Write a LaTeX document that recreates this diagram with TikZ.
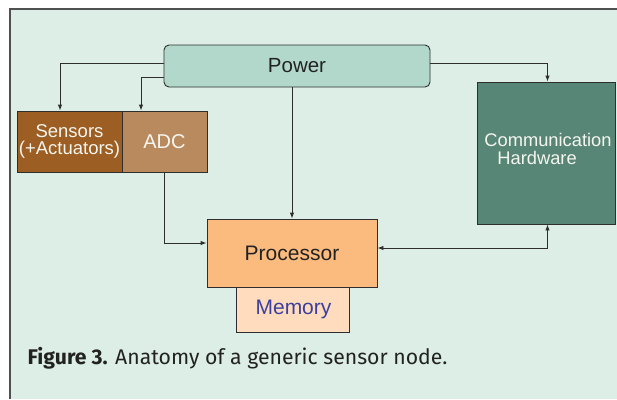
\documentclass[tikz,border=0pt]{standalone}
\usepackage{fontspec}
\setmainfont{Liberation Sans}
\newfontfamily\capfont{Fira Sans}
\usetikzlibrary{arrows.meta}
\definecolor{panelbg}{HTML}{DCEEE6}
\definecolor{panelline}{HTML}{505050}
\definecolor{powerfill}{HTML}{B2D8CC}
\definecolor{sensfill}{HTML}{9C5E22}
\definecolor{adcfill}{HTML}{B98A5E}
\definecolor{commfill}{HTML}{578676}
\definecolor{procfill}{HTML}{FBBB7E}
\definecolor{memfill}{HTML}{FEDCBD}
\definecolor{memtext}{HTML}{3B40A0}
\definecolor{linecol}{HTML}{2E2E2E}
\definecolor{darktext}{HTML}{222222}
\definecolor{lighttext}{HTML}{F6F6F0}
\tikzset{
  blockbox/.style={draw=linecol, line width=0.9pt, inner sep=0pt, rectangle},
  conn/.style={draw=linecol, line width=0.9pt, -{Latex[length=6pt,width=4.5pt]}},
  conntwo/.style={draw=linecol, line width=0.9pt, {Latex[length=6pt,width=4.5pt]}-{Latex[length=6pt,width=4.5pt]}},
}
\begin{document}
\begin{tikzpicture}[x=1pt,y=-1pt]
\useasboundingbox (0,0) rectangle (617,399);
\fill[white] (0,0) rectangle (617,399);
\fill[panelbg] (10,9) rectangle (617,399);
\draw[panelline, line width=1.2pt] (10,399) -- (10,9) -- (617,9);

\node[blockbox, rounded corners=5pt, fill=powerfill, minimum width=266pt, minimum height=42pt,
  text=darktext, font=\fontsize{20.5}{22}\selectfont] (power) at (297,66) {Power};

\node[blockbox, fill=sensfill, minimum width=105pt, minimum height=61pt, text=lighttext,
  align=center, font=\fontsize{18.5}{18.6}\selectfont] (sens) at (69.5,141.5) {Sensors\\[-1pt](+Actuators)};
\node[blockbox, fill=adcfill, minimum width=85pt, minimum height=61pt, text=lighttext,
  font=\fontsize{20}{22}\selectfont] (adc) at (164.5,141.5) {ADC};

\node[blockbox, fill=commfill, minimum width=138pt, minimum height=142pt] (comm) at (546,153) {};
\node[text=lighttext, align=left, inner sep=0pt, font=\fontsize{18.3}{18.3}\selectfont]
  (commlbl) at (548,149) {Communication\\\hspace*{13pt}Hardware};

\node[blockbox, fill=memfill, minimum width=113pt, minimum height=45pt, text=memtext,
  font=\fontsize{21}{22}\selectfont] (mem) at (292.5,309.5) {\hspace*{2pt}Memory};
\node[blockbox, fill=procfill, minimum width=170pt, minimum height=68pt, text=darktext,
  font=\fontsize{21}{22}\selectfont] (proc) at (292,253) {Processor};

\draw[conn] ([yshift=3pt]power.west) -| ([xshift=-9.5pt]sens.north);
\draw[conn] ([yshift=-11pt]power.west) -| ([xshift=-23.5pt]adc.north);
\draw[conn] ([yshift=3pt]power.east) -| ([xshift=1.5pt]comm.north);
\draw[conn] (power.south -| proc.north) -- (proc.north);
\draw[conn] (adc.south) |- ([yshift=10pt]proc.west);
\draw[conntwo] ([yshift=5pt]proc.east) -| ([xshift=1.5pt]comm.south);

\node[anchor=base west, inner sep=0pt, text=darktext, font=\capfont\fontsize{21.2}{24}\selectfont]
  (caption) at (27.5,364) {\textbf{Figure 3.} Anatomy of a generic sensor node.};
\end{tikzpicture}
\end{document}
